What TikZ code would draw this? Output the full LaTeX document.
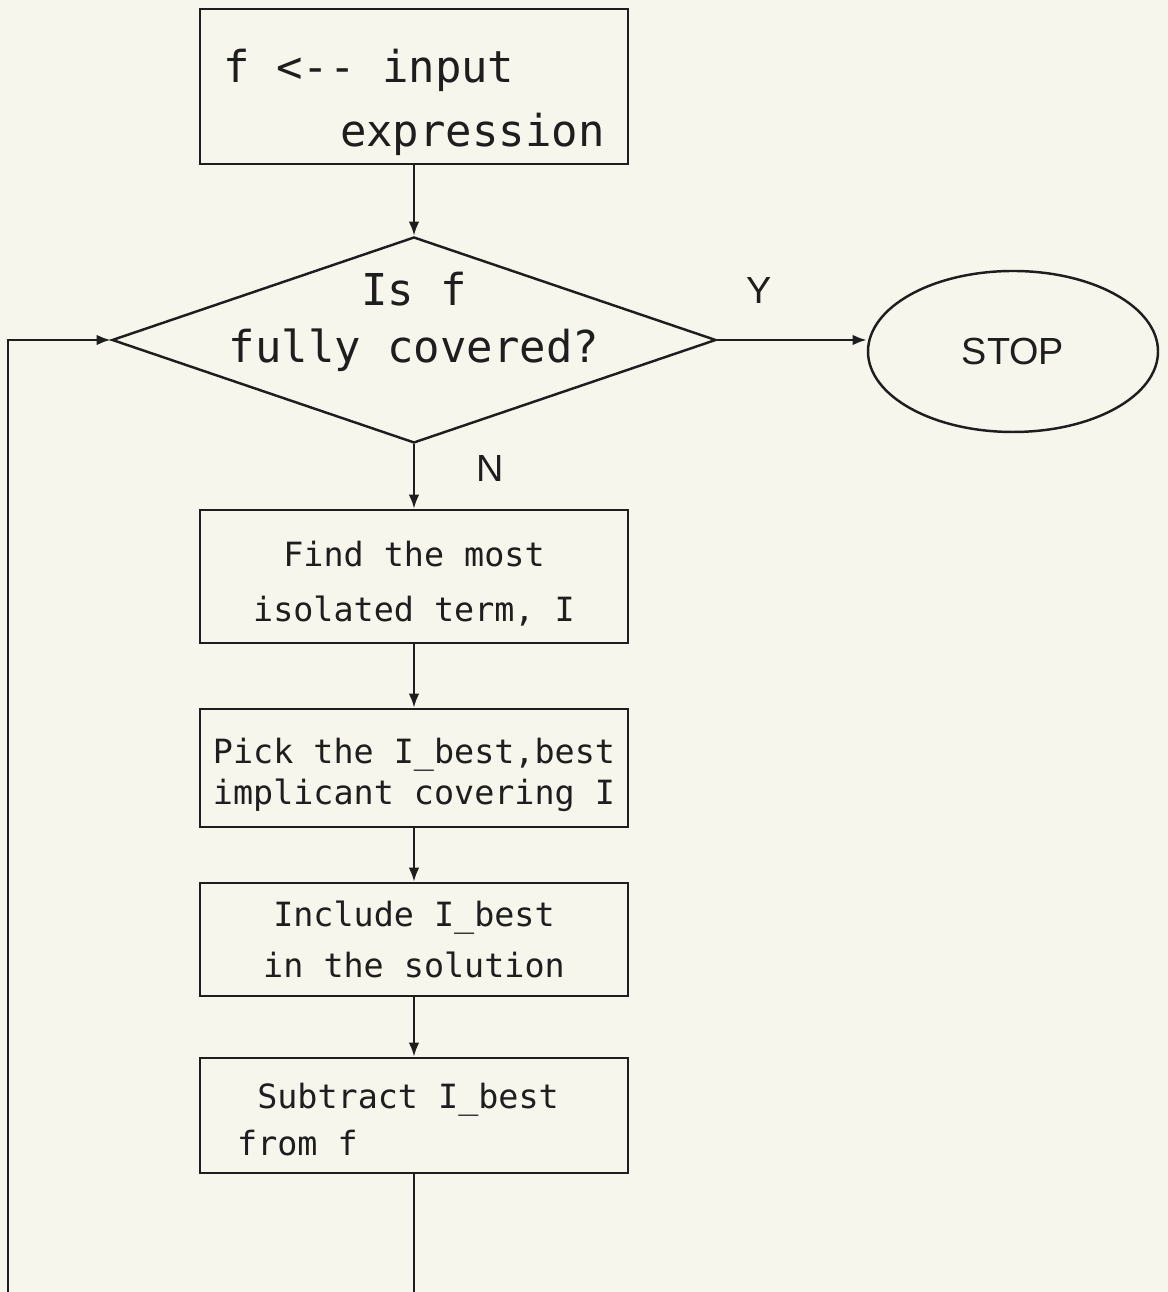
\documentclass[tikz,border=0pt]{standalone}
\usepackage{fontspec}
\newfontfamily\plotfont{DejaVu Sans Mono}
\newfontfamily\plainfont{Liberation Sans}
\usetikzlibrary{shapes.geometric, arrows.meta}
\definecolor{paper}{RGB}{246,246,236}
\definecolor{ink}{RGB}{30,30,30}

\begin{document}
\begin{tikzpicture}[line width=1.4pt, color=ink, >={Latex[length=8pt,width=6pt]},
  box/.style={rectangle, draw, minimum width=8.56cm, align=center, font=\plotfont\fontsize{19}{28.5}\selectfont},
  bigtext/.style={font=\plotfont\fontsize{25}{32.4}\selectfont},
  plain/.style={inner sep=0pt, font=\plainfont\fontsize{21.5}{26}\selectfont}]
\fill[paper] (0,0) rectangle (23.36,25.84);
\useasboundingbox (0,0) rectangle (23.36,25.84);
\clip (0,0) rectangle (23.36,25.84);

\node[box, bigtext, minimum height=3.1cm, align=right] (1) at (8.28,24.11) {\rule{0pt}{1.47em}f <-{}- input\hspace*{2.05em}\\[4pt]expression};

\node[diamond, draw, aspect=2.93, inner sep=0pt, minimum width=12.08cm, minimum height=4.12cm] (2) at (8.28,19.04) {};
\node[bigtext, align=center] (2a) at (8.28,19.4) {Is f\\fully covered?};

\node[box, minimum height=2.66cm] (3) at (8.28,14.31) {\rule{0pt}{1.2em}Find the most\\[2.8pt]isolated term, I};
\node[box, minimum height=2.36cm] (4) at (8.28,10.48) {\rule{0pt}{1.2em}Pick the I\_best,best\\[-5.2pt]implicant covering I};
\node[box, minimum height=2.26cm] (5) at (8.28,7.05) {Include I\_best\\in the solution};
\node[box, minimum height=2.3cm, align=left] (6) at (8.28,3.53) {\rule{0pt}{1em}~Subtract I\_best\hspace*{0.96em}\\[-1.8pt]from f};

\node[ellipse, draw, plain, minimum width=5.8cm, minimum height=3.22cm] (7) at (20.26,18.81) {STOP};
\coordinate (8) at (0.16,-1);

\draw[->] (1) -- (2);
\draw[->] (2) --node[plain, pos=0.28, above=0.7cm]{Y} (2.east -| 7.west);
\draw[->] (2) --node[plain, pos=0.38, right=1.22cm]{N} (3);
\draw[->] (3) -- (4);
\draw[->] (4) -- (5);
\draw[->] (5) -- (6);
\draw[->] (6) |- (8) |- (2);
\end{tikzpicture}
\end{document}
